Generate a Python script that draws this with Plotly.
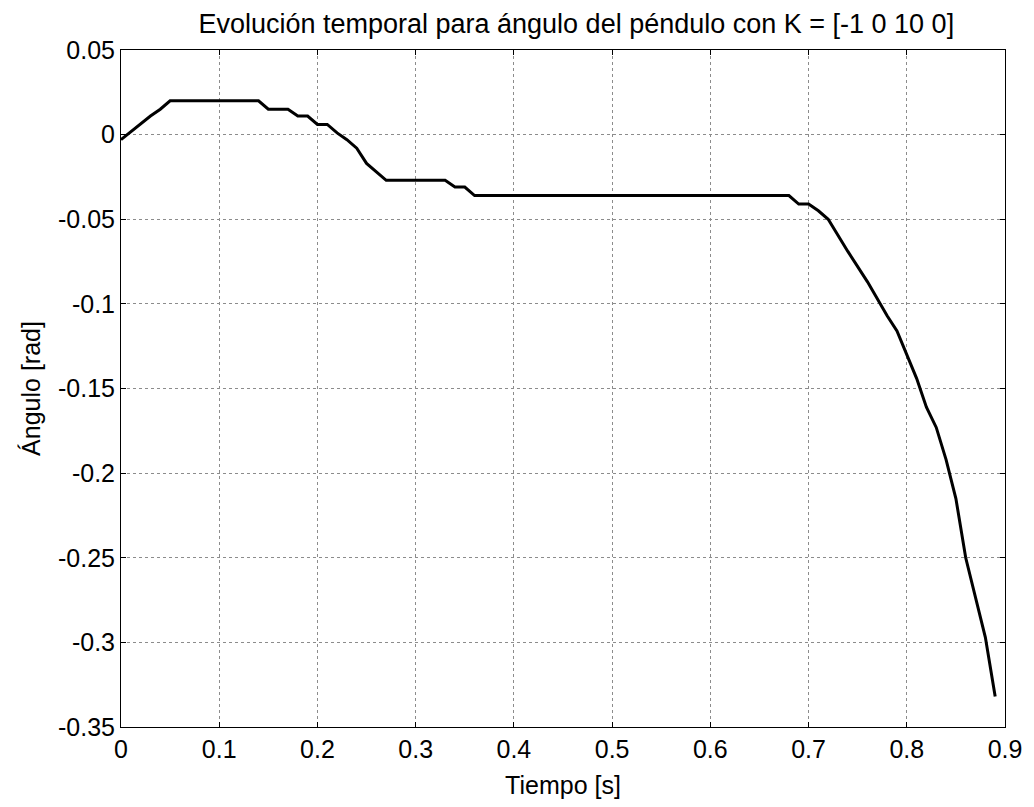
import plotly.graph_objects as go

t = [0, 0.03, 0.04, 0.05, 0.14, 0.15, 0.17, 0.18, 0.19, 0.20, 0.21, 0.22, 0.23, 0.24,
     0.25, 0.26, 0.27, 0.33, 0.34, 0.35, 0.36, 0.68, 0.69, 0.70, 0.71, 0.72, 0.74,
     0.76, 0.78, 0.79, 0.81, 0.82, 0.83, 0.84, 0.85, 0.86, 0.88, 0.89]
angulo = [-0.003, 0.011, 0.015, 0.02, 0.02, 0.015, 0.015, 0.011, 0.011, 0.006, 0.006,
          0.001, -0.003, -0.008, -0.017, -0.022, -0.027, -0.027, -0.031, -0.031, -0.036,
          -0.036, -0.041, -0.041, -0.045, -0.050, -0.069, -0.087, -0.107, -0.116, -0.144,
          -0.161, -0.173, -0.192, -0.215, -0.250, -0.297, -0.332]

xticks = [0, 0.1, 0.2, 0.3, 0.4, 0.5, 0.6, 0.7, 0.8, 0.9]
xlabels = ["0", "0.1", "0.2", "0.3", "0.4", "0.5", "0.6", "0.7", "0.8", "0.9"]
yticks = [0.05, 0, -0.05, -0.1, -0.15, -0.2, -0.25, -0.3, -0.35]
ylabels = ["0.05", "0", "-0.05", "-0.1", "-0.15", "-0.2", "-0.25", "-0.3", "-0.35"]

font = "Liberation Sans, Arial, sans-serif"

fig = go.Figure()
fig.add_trace(go.Scatter(x=t, y=angulo, mode="lines",
                         line=dict(color="black", width=3), showlegend=False))

axis_common = dict(showline=True, linecolor="black", linewidth=1, mirror="allticks",
                   ticks="inside", ticklen=5, tickcolor="black",
                   showgrid=True, gridcolor="#8c8c8c", griddash="dot", gridwidth=1,
                   zeroline=False, tickfont=dict(size=25, color="black", family=font))

fig.update_xaxes(range=[0, 0.9], tickvals=xticks, ticktext=xlabels,
                 title=dict(text="Tiempo [s]", font=dict(size=25, color="black", family=font), standoff=14),
                 **axis_common)
fig.update_yaxes(range=[-0.35, 0.05], tickvals=yticks, ticktext=ylabels,
                 title=dict(text="Ángulo [rad]", font=dict(size=25, color="black", family=font), standoff=10),
                 **axis_common)

fig.update_layout(
    width=1034, height=807,
    margin=dict(l=121, r=25, t=50, b=78),
    paper_bgcolor="white", plot_bgcolor="white",
    title=dict(text="Evolución temporal para ángulo del péndulo con K = [-1 0 10 0]",
               xref="paper", x=0.515, xanchor="center", y=1 - 24 / 807, yanchor="middle",
               font=dict(size=27, color="black", family=font)),
)

fig.write_html("out.html")
